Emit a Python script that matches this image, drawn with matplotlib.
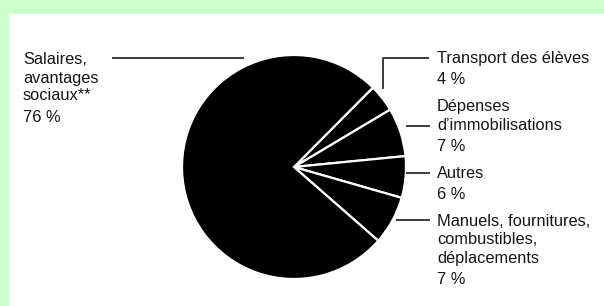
import matplotlib
matplotlib.use("Agg")
import matplotlib.pyplot as plt
from matplotlib.patches import Rectangle

# slices, clockwise from the top-right
categories = ["Transport des élèves",
              "Dépenses\nd’immobilisations",
              "Autres",
              "Manuels, fournitures,\ncombustibles,\ndéplacements",
              "Salaires,\navantages\nsociaux**"]
shares = [4, 7, 6, 7, 76]
pct_labels = ["4 %", "7 %", "6 %", "7 %", "76 %"]

W, H = 604, 306
fig = plt.figure(figsize=(W / 100, H / 100), dpi=100)
fig.patch.set_facecolor("#ccffcc")

# white page area (green only shows at top and left)
bg = fig.add_axes([0, 0, 1, 1])
bg.set_xlim(0, W)
bg.set_ylim(H, 0)
bg.axis("off")
bg.add_patch(Rectangle((9, 14), W, H, facecolor="white", edgecolor="none"))

# pie: centre (294,167) px, radius 112 px
cx, cy, r = 294, 167, 112
ax = fig.add_axes([(cx - r) / W, (H - cy - r) / H, 2 * r / W, 2 * r / H])
ax.pie(shares, startangle=45.2, counterclock=False, colors=["black"] * 5,
       wedgeprops=dict(edgecolor="white", linewidth=1.6))
ax.set_xlim(-1, 1)
ax.set_ylim(-1, 1)
ax.axis("off")

# overlay for labels + leader lines, pixel coords
ov = fig.add_axes([0, 0, 1, 1])
ov.set_xlim(0, W)
ov.set_ylim(H, 0)
ov.axis("off")
ov.patch.set_alpha(0)

font = dict(family="Liberation Sans", fontsize=11.8, color="#151515", va="center", ha="left")
line_col = "#3a3a3a"

# (text x, first line y) for each label
label_pos = [(437, 58), (437, 107), (437, 173), (437, 222), (23, 60)]
step, pct_gap = 18, 21.5
for name, pct, (tx, ty) in zip(categories, pct_labels, label_pos):
    lines = name.split("\n")
    for i, ln in enumerate(lines):
        ov.text(tx, ty + i * step, ln, **font)
    ov.text(tx, ty + (len(lines) - 1) * step + pct_gap, pct, **font)

# leader lines
ov.plot([113, 243], [58, 58], color=line_col, lw=1.4)            # salaires
ov.plot([383, 383, 428], [88, 58, 58], color=line_col, lw=1.4)   # transport
ov.plot([407, 429], [126, 126], color=line_col, lw=1.4)          # depenses
ov.plot([407, 429], [173, 173], color=line_col, lw=1.4)          # autres
ov.plot([397, 429], [220, 220], color=line_col, lw=1.4)          # manuels

fig.savefig("out.png", dpi=100, facecolor=fig.get_facecolor())
